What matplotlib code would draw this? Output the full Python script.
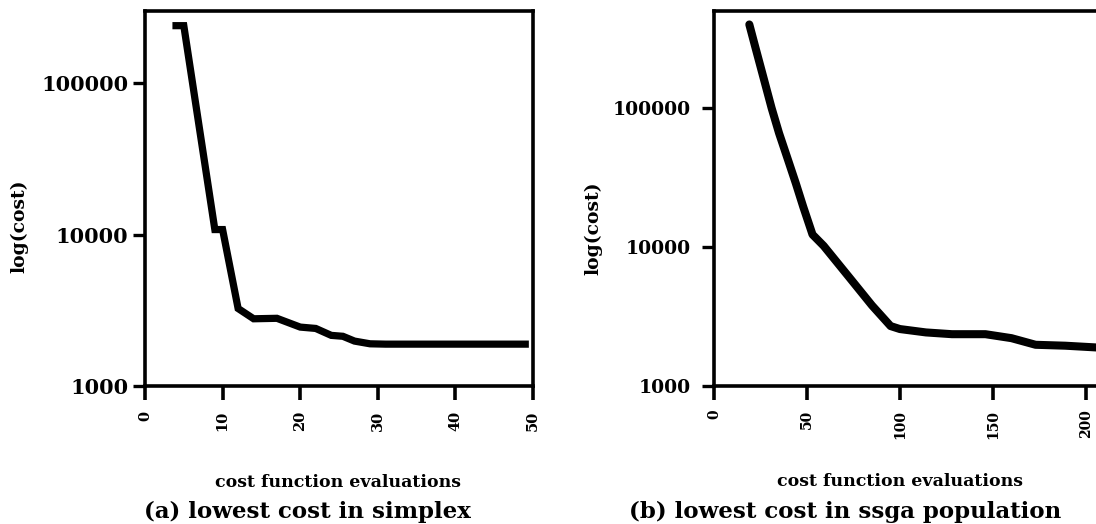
import matplotlib
matplotlib.use("Agg")
import matplotlib.pyplot as plt

# figure size in pixels (dpi 100)
W, H = 1096, 524

# (a) lowest cost in simplex
simplex_evals = [4, 5, 9, 10, 12, 14, 17, 20, 22, 24, 25.5, 27, 29, 31, 49]
simplex_cost = [240000, 240000, 10800, 10800, 3250, 2780, 2800, 2450, 2400,
                2160, 2130, 1980, 1900, 1890, 1890]

# (b) lowest cost in ssga population
ssga_evals = [19, 22, 26, 31, 35, 40, 44, 48, 53, 59, 73, 85, 95, 100,
              114, 128, 146, 160, 173, 189, 210]
ssga_cost = [400000, 282000, 178000, 100000, 66000, 41700, 28800, 19500,
             12300, 10200, 6000, 3800, 2700, 2570, 2430, 2360, 2360, 2210,
             1980, 1950, 1880]

y_ticks = [1000, 10000, 100000]
y_tick_labels = ["1000", "10000", "100000"]
simplex_xticks = [0, 10, 20, 30, 40, 50]
ssga_xticks = [0, 50, 100, 150, 200]

plt.rcParams["font.family"] = "DejaVu Serif"
plt.rcParams["font.weight"] = "bold"


def px(x0, y0, x1, y1):
    # pixel box (top-left origin) -> figure fraction rect
    return [x0 / W, 1 - y1 / H, (x1 - x0) / W, (y1 - y0) / H]


def style_axes(ax, xticks, ylim, xlim, ysize, xsize, ypad, xpad):
    ax.set_yscale("log")
    ax.set_ylim(*ylim)
    ax.set_xlim(*xlim)
    ax.set_yticks(y_ticks, labels=y_tick_labels)
    ax.set_xticks(xticks, labels=[str(t) for t in xticks])
    ax.minorticks_off()
    for s in ax.spines.values():
        s.set_linewidth(2.6)
    ax.tick_params(axis="y", length=9, width=2.4, pad=ypad, labelsize=ysize)
    ax.tick_params(axis="x", length=10, width=2.6, pad=xpad, labelsize=xsize,
                   labelrotation=90)
    for lab in ax.get_xticklabels() + ax.get_yticklabels():
        lab.set_fontweight("bold")


fig = plt.figure(figsize=(W / 100, H / 100), dpi=100)

# left panel
ax1 = fig.add_axes(px(145, 11, 533, 386))
ax1.plot(simplex_evals, simplex_cost, color="black", lw=5.2,
         solid_capstyle="projecting", solid_joinstyle="miter")
style_axes(ax1, simplex_xticks, (1000, 300000), (0, 50), 15, 10.5, 3, 8)

# right panel (cut off at the right edge of the picture)
ax2 = fig.add_axes(px(714, 11, 1096, 386))
ax2.plot(ssga_evals, ssga_cost, color="black", lw=5.8,
         solid_capstyle="round", solid_joinstyle="round")
style_axes(ax2, ssga_xticks, (1000, 500000), (0, 205.5), 13.5, 10, 8, 7)
ax2.spines["right"].set_visible(False)

# axis labels and captions
fig.text(19 / W, 1 - 226 / H, "log(cost)", rotation=90, ha="center",
         va="center", fontsize=13.5, fontweight="bold")
fig.text(593 / W, 1 - 228 / H, "log(cost)", rotation=90, ha="center",
         va="center", fontsize=13.5, fontweight="bold")

fig.text(338 / W, 1 - 487 / H, "cost function evaluations", ha="center",
         va="baseline", fontsize=12.5, fontweight="bold")
fig.text(900 / W, 1 - 486 / H, "cost function evaluations", ha="center",
         va="baseline", fontsize=12.5, fontweight="bold")

fig.text(307 / W, 1 - 518 / H, "(a) lowest cost in simplex", ha="center",
         va="baseline", fontsize=16.5, fontweight="bold")
fig.text(845 / W, 1 - 518 / H, "(b) lowest cost in ssga population",
         ha="center", va="baseline", fontsize=16.5, fontweight="bold")

fig.savefig("out.png", dpi=100)
